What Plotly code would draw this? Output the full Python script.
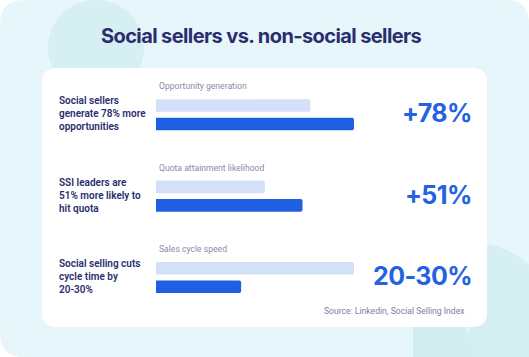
import plotly.graph_objects as go

W, H = 529, 357

# ---- data ----
metrics = ["Opportunity generation", "Quota attainment likelihood", "Sales cycle speed"]
non_social = [78, 55, 100]     # light bars (relative length)
social = [100, 74, 43]         # dark bars (relative length)
left_labels = [
    "Social sellers<br>generate 78% more<br>opportunities",
    "SSI leaders are<br>51% more likely to<br>hit quota",
    "Social selling cuts<br>cycle time by<br>20-30%",
]
big_numbers = ["+78%", "+51%", "20-30%"]
title_text = "Social sellers vs. non-social sellers"
source_text = "Source: Linkedin, Social Selling Index"

# ---- colours ----
BG = "#e7f6fa"
DECO = "#d6eff3"
NAVY = "#2b2e6e"
GREY = "#8a8ba8"
LIGHT_BAR = "#d3e0f8"
DARK_BAR = "#1f5fe2"
BLUE_TXT = "#2461e3"


def px(x):
    return x / W


def py(y):
    return 1 - y / H


def rrect(x0, y0, x1, y1, r):
    pts = [
        f"M {px(x0 + r)},{py(y0)}",
        f"L {px(x1 - r)},{py(y0)}",
        f"Q {px(x1)},{py(y0)} {px(x1)},{py(y0 + r)}",
        f"L {px(x1)},{py(y1 - r)}",
        f"Q {px(x1)},{py(y1)} {px(x1 - r)},{py(y1)}",
        f"L {px(x0 + r)},{py(y1)}",
        f"Q {px(x0)},{py(y1)} {px(x0)},{py(y1 - r)}",
        f"L {px(x0)},{py(y0 + r)}",
        f"Q {px(x0)},{py(y0)} {px(x0 + r)},{py(y0)}",
        "Z",
    ]
    return " ".join(pts)


fig = go.Figure()
fig.add_trace(go.Bar(y=metrics, x=non_social, orientation="h", marker_color=LIGHT_BAR,
                     marker_line_width=0, name="Non-social sellers", hoverinfo="skip"))
fig.add_trace(go.Bar(y=metrics, x=social, orientation="h", marker_color=DARK_BAR,
                     marker_line_width=0, name="Social sellers", hoverinfo="skip"))

shapes = []
# outer background
shapes.append(dict(type="path", path=rrect(0, 0, W, H, 24), xref="paper", yref="paper",
                   fillcolor=BG, line_width=0, layer="below"))
# top-left decorative circle
shapes.append(dict(type="circle", xref="paper", yref="paper", x0=px(48), x1=px(144),
                   y0=py(96), y1=py(0), fillcolor=DECO, line_width=0, layer="below"))
# bottom-right decorative shapes
cx, cy, r = 469, 333, 91
shapes.append(dict(type="path", xref="paper", yref="paper",
                   path=(f"M {px(cx)},{py(cy - r)} C {px(cx + r * 0.552)},{py(cy - r)} {px(cx + r)},{py(cy - r * 0.552)} {px(cx + r)},{py(cy)} "
                         f"C {px(cx + r)},{py(cy + r * 0.552)} {px(cx + r * 0.552)},{py(cy + r)} {px(cx)},{py(cy + r)} Z"),
                   fillcolor=DECO, line_width=0, layer="below"))
cx2, cy2, r2 = 413, 357, 60
shapes.append(dict(type="path", xref="paper", yref="paper",
                   path=(f"M {px(cx2)},{py(cy2 - r2)} C {px(cx2 + r2 * 0.552)},{py(cy2 - r2)} {px(cx2 + r2)},{py(cy2 - r2 * 0.552)} {px(cx2 + r2)},{py(cy2)} "
                         f"L {px(cx2)},{py(cy2)} Z"),
                   fillcolor="#d3edf1", line_width=0, layer="below"))
# white card
shapes.append(dict(type="path", path=rrect(42, 68, 487, 327, 15), xref="paper", yref="paper",
                   fillcolor="#ffffff", line_width=0, layer="below"))

ann = []
ann.append(dict(text=f"<b><span style='letter-spacing:-0.6px'>{title_text}</span></b>",
                x=px(261), y=py(36), xref="paper", yref="paper",
                showarrow=False, xanchor="center", yanchor="middle",
                font=dict(family="Inter", size=20, color=NAVY)))
for m, lab, num in zip(metrics, left_labels, big_numbers):
    ann.append(dict(text=m, x=px(157), y=m, xref="paper", yref="y", yshift=28.5,
                    showarrow=False, xanchor="left", yanchor="middle",
                    font=dict(family="Roboto", size=8.6, color=GREY)))
    ann.append(dict(text=lab, x=px(57), y=m, xref="paper", yref="y", yshift=1,
                    showarrow=False, xanchor="left", yanchor="middle", align="left",
                    font=dict(family="Roboto", size=10, color=NAVY, weight=600)))
    ann.append(dict(text=f"<b><span style='letter-spacing:-0.6px'>{num}</span></b>",
                    x=px(474), y=m, xref="paper", yref="y", yshift=1.5,
                    showarrow=False, xanchor="right", yanchor="middle",
                    font=dict(family="Inter", size=25, color=BLUE_TXT)))
ann.append(dict(text=source_text, x=px(467), y=py(311), xref="paper", yref="paper",
                showarrow=False, xanchor="right", yanchor="middle",
                font=dict(family="Roboto", size=8.6, color="#7d7e9e")))

fig.update_layout(
    width=W, height=H, margin=dict(l=0, r=0, t=0, b=0),
    paper_bgcolor="#ffffff", plot_bgcolor="rgba(0,0,0,0)",
    showlegend=False, barmode="group", bargap=0.545, bargroupgap=0.32,
    barcornerradius=2,
    xaxis=dict(domain=[px(156), px(354)], range=[0, 100], visible=False, fixedrange=True),
    yaxis=dict(domain=[py(318.2), py(74.05)], categoryorder="array", categoryarray=metrics,
               autorange="reversed", visible=False, fixedrange=True),
    shapes=shapes, annotations=ann,
)

fig.write_html("out.html", config={"displayModeBar": False},
               post_script="document.body.style.margin='0';document.body.style.overflow='hidden';")
